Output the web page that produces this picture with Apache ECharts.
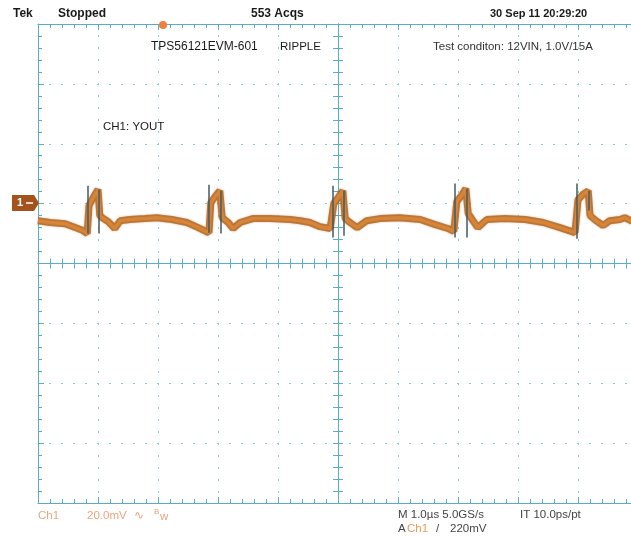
<!DOCTYPE html>
<html>
<head>
<meta charset="utf-8">
<title>TPS56121EVM-601 ripple</title>
<script src="https://cdn.jsdelivr.net/npm/echarts@6/dist/echarts.min.js"></script>
<style>
html, body { margin: 0; padding: 0; background: #fff; }
#chart { width: 631px; height: 537px; }
</style>
</head>
<body>
<div id="chart"></div>
<script>
// time in us (1.0us/div, centre of screen = 0)
// ch1 in mV (20mV/div, centre of screen = 0, ch1 ground marker sits at +20)
const timeUs = [
  -5.00, -4.80, -4.55, -4.38, -4.25, -4.18, -4.15, -4.08, -4.00, -3.97,
  -3.93, -3.83, -3.72, -3.63, -3.47, -3.22, -3.02, -2.77, -2.52, -2.33,
  -2.20, -2.15, -2.12, -2.05, -1.97, -1.93, -1.83, -1.75, -1.63, -1.42,
  -1.13, -0.80, -0.63, -0.47, -0.30, -0.13, -0.10, -0.07, 0.00, 0.08,
  0.12, 0.20, 0.32, 0.48, 0.70, 1.03, 1.37, 1.62, 1.83, 1.93,
  1.98, 2.07, 2.13, 2.17, 2.25, 2.33, 2.48, 2.78, 3.12, 3.42,
  3.70, 3.95, 4.00, 4.08, 4.17, 4.20, 4.30, 4.42, 4.53, 4.70,
  4.78, 4.88, 5.00
];
const ch1mV = [
  14.3, 13.7, 13.3, 12.0, 11.0, 10.0, 19.3, 22.0, 24.7, 16.0,
  15.3, 14.0, 11.7, 14.3, 14.7, 15.0, 15.3, 14.7, 13.7, 12.0,
  10.7, 10.3, 20.3, 22.3, 24.3, 15.3, 13.7, 11.7, 13.7, 15.0,
  15.0, 14.7, 14.3, 13.7, 12.3, 11.7, 11.3, 20.0, 22.0, 24.3,
  15.0, 13.7, 12.0, 14.3, 15.0, 15.3, 14.7, 13.0, 11.7, 10.7,
  20.7, 23.0, 25.0, 16.7, 14.3, 12.0, 14.7, 15.0, 14.7, 13.7,
  12.0, 10.3, 21.3, 23.0, 24.3, 16.0, 14.3, 12.7, 14.3, 14.7,
  15.3, 14.3, 14.3
];

// fast switching edges (thin vertical strokes)
const edgeTimeUs = [-4.17, -3.98, -2.15, -1.95, -0.08, 0.10, 1.95, 2.15, 3.98, 4.18];
const edgeLowMv = [10.0, 10.0, 10.3, 10.0, 8.7, 9.3, 8.7, 8.7, 8.3, 17.7];
const edgeHighMv = [26.0, 24.7, 26.3, 24.3, 26.0, 24.3, 26.7, 25.0, 26.7, 24.3];

const chart = echarts.init(document.getElementById("chart"));

const frameColor = "#5aaec4";
const dotColor = "#8ccadb";
const traceData = timeUs.map((t, i) => [t, ch1mV[i]]);
const edgeData = edgeTimeUs.map((t, i) => ({
  coords: [[t, edgeLowMv[i]], [t, edgeHighMv[i]]]
}));

// graticule axis helper
function scopeAxis(min, max, opts) {
  return Object.assign({
    type: "value",
    min: min,
    max: max,
    interval: (max - min) / (opts.divs || 10),
    axisLine: { onZero: false, lineStyle: { color: frameColor, width: 1 } },
    axisTick: { show: true, inside: true, length: 6, lineStyle: { color: frameColor } },
    minorTick: { show: true, splitNumber: 5, length: 4, lineStyle: { color: frameColor } },
    axisLabel: { show: false },
    splitLine: { show: false }
  }, opts.extra);
}

// centre crosshair axis, ticks on one side (inside) or the other
function centreAxis(min, max, divs, inside) {
  return scopeAxis(min, max, { divs: divs, extra: {
    position: divs === 8 ? "left" : "bottom",
    axisLine: { onZero: true, lineStyle: { color: frameColor } },
    axisTick: { inside: inside, length: 5, lineStyle: { color: frameColor } },
    minorTick: { show: true, splitNumber: 5, length: 5, lineStyle: { color: frameColor } }
  } });
}

const dotted = { show: true, lineStyle: { color: dotColor, width: 1, type: [2, 10], dashOffset: 1 } };

function txt(x, y, text, font, fill) {
  return {
    type: "text",
    x: x,
    y: y,
    z: 100,
    style: { text: text, font: font, fill: fill || "#1a1a1a", verticalAlign: "middle" }
  };
}

const hdr = 'bold 12px "Liberation Sans", Arial, sans-serif';
const nrm = '12px "Liberation Sans", Arial, sans-serif';
const sml = '11.5px "Liberation Sans", Arial, sans-serif';
const peach = "#eba47c";

const option = {
  animation: false,
  backgroundColor: "#fff",
  // screen is 10 div wide, the right edge is cut off by the picture
  grid: { left: 38, top: 24, width: 600, height: 479, outerBoundsMode: "none" },
  xAxis: [
    scopeAxis(-5, 5, { extra: { position: "bottom", splitLine: dotted } }),
    scopeAxis(-5, 5, { extra: { position: "top" } }),
    centreAxis(-5, 5, 10, true),
    centreAxis(-5, 5, 10, false)
  ],
  yAxis: [
    scopeAxis(-80, 80, { divs: 8, extra: { position: "left", splitLine: dotted } }),
    centreAxis(-80, 80, 8, true),
    centreAxis(-80, 80, 8, false)
  ],
  series: [
    {
      name: "CH1 wide",
      type: "line",
      data: traceData,
      showSymbol: false,
      lineStyle: { color: "#b8681f", width: 7, opacity: 0.85, shadowBlur: 2, shadowColor: "rgba(140,70,20,0.5)" },
      z: 3
    },
    {
      name: "CH1",
      type: "line",
      data: traceData,
      showSymbol: false,
      lineStyle: { color: "#d4853a", width: 3.5 },
      z: 4
    },
    {
      name: "edges",
      type: "lines",
      coordinateSystem: "cartesian2d",
      data: edgeData,
      lineStyle: { color: "#3f5a63", width: 1.5, opacity: 1 },
      z: 5
    }
  ],
  graphic: [
    txt(13, 14, "Tek", hdr),
    txt(58, 14, "Stopped", hdr),
    txt(251, 14, "553 Acqs", hdr),
    txt(490, 14, "30 Sep 11 20:29:20", 'bold 11px "Liberation Sans", Arial, sans-serif'),
    txt(151, 47, "TPS56121EVM-601", nrm),
    txt(280, 47, "RIPPLE", sml),
    txt(433, 47, "Test conditon: 12VIN, 1.0V/15A", sml, "#333"),
    txt(103, 127, "CH1: YOUT", sml),
    txt(38, 516, "Ch1", sml, peach),
    txt(87, 516, "20.0mV", sml, peach),
    txt(134, 516, "\u223f", sml, peach),
    txt(154, 512, "B", '8px "Liberation Sans", Arial, sans-serif', peach),
    txt(160, 517, "w", sml, peach),
    txt(398, 515, "M 1.0\u00b5s 5.0GS/s", sml, "#444"),
    txt(520, 515, "IT 10.0ps/pt", sml, "#444"),
    txt(398, 529, "A", sml, "#444"),
    txt(407, 529, "Ch1", sml, "#e89a5a"),
    txt(436, 529, "/", sml, "#444"),
    txt(450, 529, "220mV", sml, "#444"),
    // trigger position marker
    { type: "circle", z: 100, shape: { cx: 163, cy: 25, r: 4 }, style: { fill: "#f0803c" } },
    // ch1 ground marker
    { type: "rect", z: 100, shape: { x: 12, y: 195, width: 22, height: 16 }, style: { fill: "#a5531d" } },
    { type: "polygon", z: 100, shape: { points: [[34, 195], [39, 203], [34, 211]] }, style: { fill: "#a5531d" } },
    txt(17, 203, "1", 'bold 11px "Liberation Sans", Arial, sans-serif', "#fff"),
    { type: "line", z: 101, shape: { x1: 26, y1: 203, x2: 33, y2: 203 }, style: { stroke: "#fff", lineWidth: 1.5 } }
  ]
};

chart.setOption(option);
</script>
</body>
</html>
